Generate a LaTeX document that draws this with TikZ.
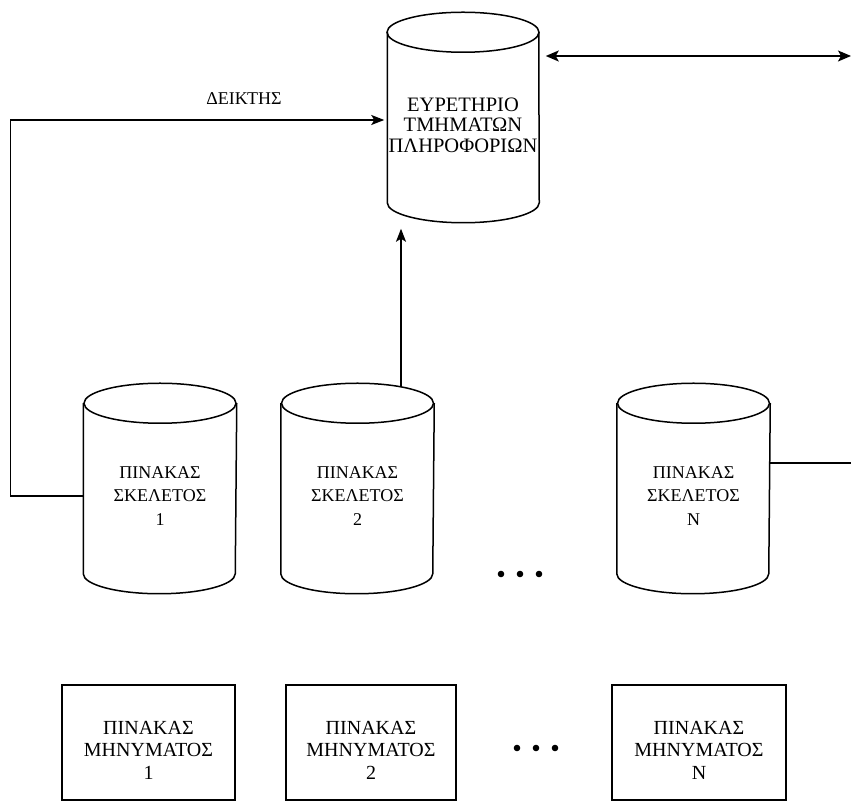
\documentclass[tikz,border=0pt]{standalone}
\usepackage{fontspec}
\setmainfont{Liberation Serif}
\usetikzlibrary{arrows.meta,calc}

\begin{document}
\begin{tikzpicture}[x=1pt,y=1pt,
  line width=1.5pt,
  body/.style={draw=none, minimum width=152pt, minimum height=169pt, inner sep=0pt},
  cyltext/.style={align=center, font=\fontsize{18}{23.5}\selectfont},
  idxtext/.style={align=center, font=\fontsize{20.5}{20.5}\selectfont},
  boxtext/.style={align=center, font=\fontsize{20}{22.5}\selectfont},
  msgbox/.style={draw, minimum height=115pt, inner sep=0pt},
  lbl/.style={font=\fontsize{18}{20}\selectfont},
  tip/.style={-{Stealth[length=13pt,width=10pt,inset=3pt]}},
  dtip/.style={{Stealth[length=13pt,width=11pt,inset=3pt]}-{Stealth[length=13pt,width=11pt,inset=3pt]}}
]
\useasboundingbox (0,0) rectangle (851,803);

% cylinder outline: side walls, lower rim and full upper ellipse
\newcommand{\drumoutline}[2]{%
  \draw (#1.north west) -- (#1.south west)
        arc[start angle=180, end angle=360, x radius=76pt, y radius=#2]
        -- (#1.north east);
  \draw (#1.north) ellipse[x radius=76pt, y radius=#2];
}

% index of information segments
\node[body, minimum width=150pt] (idx) at (463,685.5) {};
\drumoutline{idx}{20pt}
\node[idxtext] (idxt) at (463,678) {ΕΥΡΕΤΗΡΙΟ\\ΤΜΗΜΑΤΩΝ\\ΠΛΗΡΟΦΟΡΙΩΝ};

% skeleton tables
\node[body] (c1) at (160,314.5) {};
\node[body] (c2) at (357.5,314.5) {};
\node[body] (cN) at (693.5,314.5) {};
\drumoutline{c1}{20pt}
\drumoutline{c2}{20pt}
\drumoutline{cN}{20pt}
\node[cyltext] (t1) at (160,307) {ΠΙΝΑΚΑΣ\\ΣΚΕΛΕΤΟΣ\\1};
\node[cyltext] (t2) at (357.5,307) {ΠΙΝΑΚΑΣ\\ΣΚΕΛΕΤΟΣ\\2};
\node[cyltext] (tN) at (693.5,307) {ΠΙΝΑΚΑΣ\\ΣΚΕΛΕΤΟΣ\\N};

% message tables
\node[msgbox, minimum width=173pt] (m1) at (148.5,60.5) {};
\node[msgbox, minimum width=170pt] (m2) at (371,60.5) {};
\node[msgbox, minimum width=174pt] (mN) at (699,60.5) {};
\node[boxtext] (b1) at (148.5,53) {ΠΙΝΑΚΑΣ\\ΜΗΝΥΜΑΤΟΣ\\1};
\node[boxtext] (b2) at (371,53) {ΠΙΝΑΚΑΣ\\ΜΗΝΥΜΑΤΟΣ\\2};
\node[boxtext] (bN) at (699,53) {ΠΙΝΑΚΑΣ\\ΜΗΝΥΜΑΤΟΣ\\N};

% ellipsis marks
\coordinate (dotsA) at (520,229);
\coordinate (dotsB) at (536,55);
\foreach \dx in {-19,0,19} {
  \fill ([xshift=\dx pt]dotsA) circle (3.3pt);
  \fill ([xshift=\dx pt]dotsB) circle (3.3pt);
}

% pointer from skeleton table 1 to the index
\node[lbl] (ptr) at (244,704) {ΔΕΙΚΤΗΣ};
\draw[tip] (c1.west |- t1.center) -- ++(-73pt,0) |- ([xshift=-3pt]idx.west |- 0,683);

% skeleton table 2 to the index
\coordinate (c2port) at ([xshift=43.5pt,yshift=16.4pt]c2.north);
\coordinate (idxbelow) at ([yshift=-26pt]idx.south);
\draw[tip] (c2port) -- (c2port |- idxbelow);

% external links on the right
\coordinate (farA) at (851,747);
\coordinate (farB) at (851,340);
\draw[dtip] ([xshift=7pt]idx.east |- farA) -- (farA);
\draw ([yshift=25.5pt]cN.east) -- (farB);
\end{tikzpicture}
\end{document}
